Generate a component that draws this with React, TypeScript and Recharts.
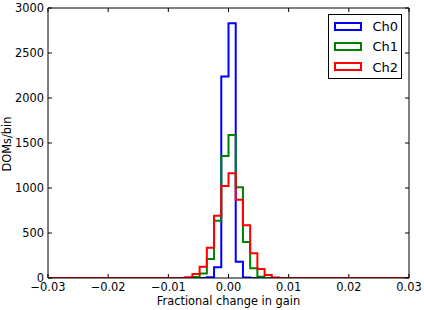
import { LineChart, Line, XAxis, YAxis, Legend } from "recharts";

// bin left edges (bin width 0.0012 over [-0.03, 0.03]); only the region with counts is listed
const EDGES = [
  -0.03, -0.0084, -0.0072, -0.006, -0.0048, -0.0036, -0.0024, -0.0012, 0, 0.0012, 0.0024, 0.0036,
  0.0048, 0.006, 0.0072, 0.0084, 0.03,
];
// counts of the bin starting at each edge
const CH0 = [0, 0, 0, 0, 0, 8, 120, 2240, 2830, 180, 5, 0, 0, 0, 0, 0, 0];
const CH1 = [0, 0, 0, 12, 50, 210, 637, 1356, 1589, 1008, 400, 107, 15, 0, 0, 0, 0];
const CH2 = [0, 0, 8, 45, 126, 337, 692, 1022, 1163, 870, 587, 275, 100, 33, 5, 0, 0];

const SERIES = [
  { key: "ch0", name: "Ch0", color: "#0000ff" },
  { key: "ch1", name: "Ch1", color: "#008000" },
  { key: "ch2", name: "Ch2", color: "#ff0000" },
];

const X_TICKS = [-0.03, -0.02, -0.01, 0, 0.01, 0.02, 0.03];
const Y_TICKS = [0, 500, 1000, 1500, 2000, 2500, 3000];

const FONT = "DejaVu Sans";

const data = EDGES.map((x, i) => ({ x, ch0: CH0[i], ch1: CH1[i], ch2: CH2[i] }));

const fmtX = (v: number) => (v === 0 ? "0.00" : (v < 0 ? "\u2212" : "") + Math.abs(v).toFixed(2));

function LegendBox() {
  return (
    <div
      style={{
        width: 74,
        height: 65,
        boxSizing: "border-box",
        border: "1px solid #000",
        background: "#fff",
        fontFamily: FONT,
        fontSize: 13,
        position: "relative",
      }}
    >
      {SERIES.map((s, i) => (
        <div key={s.key} style={{ position: "absolute", left: 0, top: 3 + i * 20.3, height: 17, width: 72 }}>
          <div
            style={{
              position: "absolute",
              left: 4.5,
              top: 3.5,
              width: 28,
              height: 9,
              boxSizing: "border-box",
              border: `2px solid ${s.color}`,
            }}
          />
          <span style={{ position: "absolute", left: 43.5, top: 0, lineHeight: "17px" }}>{s.name}</span>
        </div>
      ))}
    </div>
  );
}

export default function App() {
  return (
    <div style={{ position: "absolute", left: 0, top: 0, width: 424, height: 310, background: "#fff" }}>
      <LineChart width={424} height={310} data={data} margin={{ top: 7, right: 14, bottom: 0, left: 0 }}>
        <XAxis
          xAxisId="b"
          dataKey="x"
          type="number"
          domain={[-0.03, 0.03]}
          ticks={X_TICKS}
          allowDataOverflow
          height={32}
          tickSize={-4}
          tickMargin={9}
          stroke="#000"
          tick={{ fill: "#000", fontSize: 11.4, fontFamily: FONT }}
          tickFormatter={fmtX}
          interval={0}
          label={{
            content: () => (
              <text x={228.5} y={305} textAnchor="middle" fontFamily={FONT} fontSize={11.4} fill="#000">
                Fractional change in gain
              </text>
            ),
          }}
        />
        <XAxis
          xAxisId="t"
          orientation="top"
          dataKey="x"
          type="number"
          domain={[-0.03, 0.03]}
          ticks={X_TICKS}
          allowDataOverflow
          height={1}
          tickSize={-4}
          tickMargin={0}
          stroke="#000"
          tickFormatter={() => ""}
          interval={0}
        />
        <YAxis
          yAxisId="l"
          type="number"
          domain={[0, 3000]}
          ticks={Y_TICKS}
          allowDataOverflow
          width={48}
          tickSize={-4}
          tickMargin={8}
          stroke="#000"
          tick={{ fill: "#000", fontSize: 11.4, fontFamily: FONT }}
          interval={0}
          label={{
            content: () => (
              <text
                x={10.5}
                y={144}
                transform="rotate(-90 10.5 144)"
                textAnchor="middle"
                fontFamily={FONT}
                fontSize={11.4}
                fill="#000"
              >
                DOMs/bin
              </text>
            ),
          }}
        />
        <YAxis
          yAxisId="r"
          orientation="right"
          type="number"
          domain={[0, 3000]}
          ticks={Y_TICKS}
          allowDataOverflow
          width={1}
          tickSize={-4}
          tickMargin={0}
          stroke="#000"
          tickFormatter={() => ""}
          interval={0}
        />
        {/* invisible copy bound to the top/right frame axes so they are drawn */}
        <Line
          xAxisId="t"
          yAxisId="r"
          dataKey="ch2"
          type="stepAfter"
          stroke="none"
          dot={false}
          activeDot={false}
          legendType="none"
          isAnimationActive={false}
        />
        {SERIES.map((s) => (
          <Line
            key={s.key}
            xAxisId="b"
            yAxisId="l"
            dataKey={s.key}
            name={s.name}
            type="stepAfter"
            stroke={s.color}
            strokeWidth={2}
            dot={false}
            activeDot={false}
            isAnimationActive={false}
          />
        ))}
        <Legend
          layout="horizontal"
          verticalAlign="middle"
          align="center"
          wrapperStyle={{ position: "absolute", left: 328, top: 14, width: 74, height: 65 }}
          content={() => <LegendBox />}
        />
      </LineChart>
    </div>
  );
}
